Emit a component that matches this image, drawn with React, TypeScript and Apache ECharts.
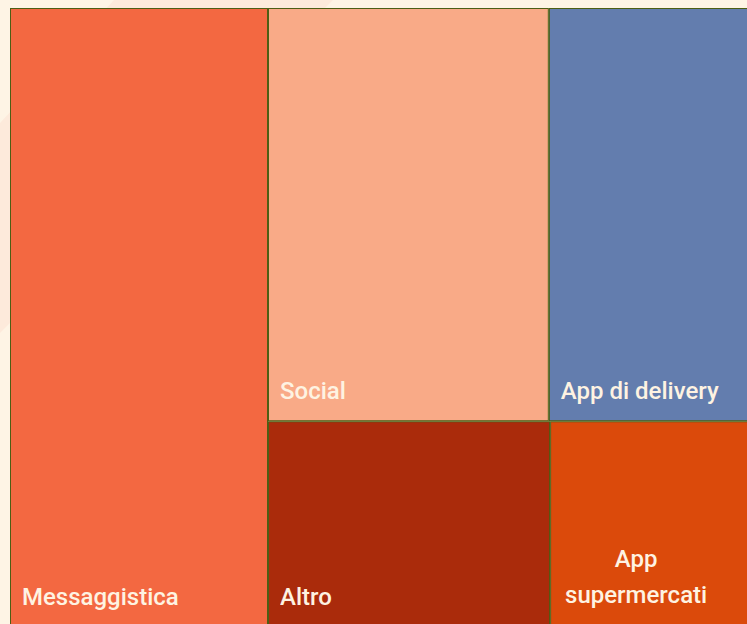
import React, { useEffect, useRef } from "react";
import * as echarts from "echarts";

const categories = ["Messaggistica", "Social", "App di delivery", "Altro", "App supermercati"];
const values = [34.4, 25.0, 18.8, 12.5, 9.3];
const colors = ["#f36841", "#f9aa87", "#637dae", "#aa2b0b", "#db4a0b"];

const BORDER = "#4d5e14";
const TEXT = "#fef3e2";

function leaf(i: number, extraLabel?: any) {
  return {
    name: categories[i],
    value: values[i],
    itemStyle: { color: colors[i], borderColor: BORDER, borderWidth: 1, gapWidth: 0 },
    ...(extraLabel ? { label: extraLabel } : {}),
  };
}

export default function App() {
  const ref = useRef<HTMLDivElement>(null);
  useEffect(() => {
    if (!ref.current) return;
    const chart = echarts.init(ref.current, null, { renderer: "svg" });
    const group = { borderWidth: 0, gapWidth: 0, borderColor: "transparent", color: "transparent" };
    const data = [
      leaf(0),
      {
        name: "g",
        value: values[1] + values[2] + values[3] + values[4],
        itemStyle: group,
        children: [
          { name: "r1", value: values[1] + values[2], itemStyle: group, children: [leaf(1), leaf(2)] },
          {
            name: "r2",
            value: values[3] + values[4],
            itemStyle: group,
            children: [
              leaf(3),
              leaf(4, {
                formatter: "App\nsupermercati",
                align: "center",
                lineHeight: 36,
                offset: [74, -2],
              }),
            ],
          },
        ],
      },
    ];
    chart.setOption({
      animation: false,
      backgroundColor: "#fef4e5",
      graphic: [
        {
          type: "polygon",
          z: -10,
          silent: true,
          shape: { points: [[114, 0], [333, 0], [0, 333], [0, 123]] },
          style: { fill: "#fdeadb" },
        },
      ],
      series: [
        {
          type: "treemap",
          left: 10,
          top: 8,
          width: 750,
          height: 619,
          sort: false,
          roam: false,
          nodeClick: false,
          breadcrumb: { show: false },
          visibleMin: 0,
          squareRatio: 1,
          itemStyle: { borderWidth: 0, gapWidth: 0, borderColor: "transparent" },
          label: {
            show: true,
            position: "insideBottomLeft",
            distance: 11,
            offset: [0, -2],
            padding: 0,
            color: TEXT,
            fontSize: 24,
            fontWeight: 500,
            lineHeight: 32,
            fontFamily: "Roboto",
            overflow: "none",
          },
          upperLabel: { show: false },
          emphasis: { disabled: true },
          levels: [{ itemStyle: { borderWidth: 0, gapWidth: 0 } }],
          data,
        },
      ],
    });
    return () => chart.dispose();
  }, []);
  return <div ref={ref} style={{ position: "absolute", left: 0, top: 0, width: 747, height: 624 }} />;
}
